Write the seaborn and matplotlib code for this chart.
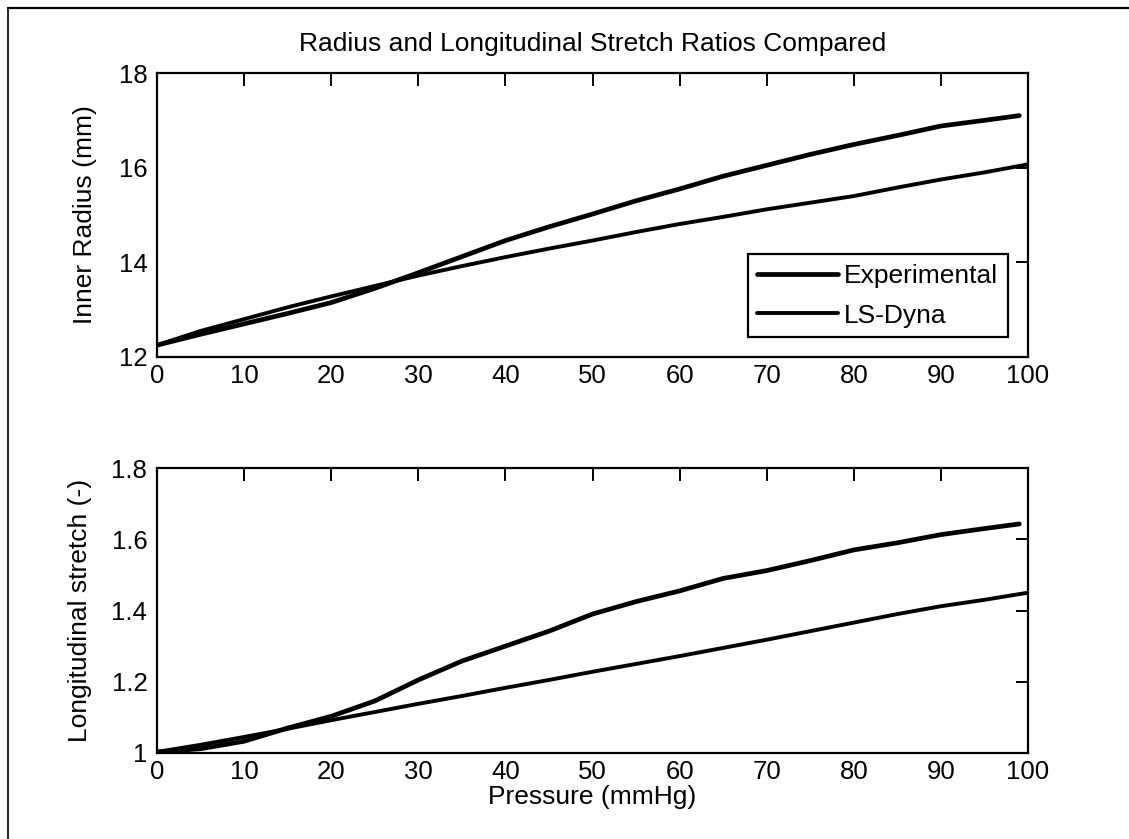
import matplotlib
matplotlib.use("Agg")
import matplotlib.pyplot as plt
from matplotlib import font_manager
from matplotlib.lines import Line2D
import seaborn as sns
import pandas as pd

# ---------------- data ----------------
pressure_exp = [0, 5, 10, 15, 20, 25, 30, 35, 40, 45, 50, 55, 60, 65, 70, 75, 80, 85, 90, 95, 99]
pressure_dyna = [0, 5, 10, 15, 20, 25, 30, 35, 40, 45, 50, 55, 60, 65, 70, 75, 80, 85, 90, 95, 100]

radius_exp = [12.25, 12.48, 12.70, 12.92, 13.15, 13.45, 13.78, 14.12, 14.46, 14.75, 15.02,
              15.30, 15.55, 15.82, 16.05, 16.28, 16.49, 16.68, 16.88, 17.00, 17.10]
radius_dyna = [12.25, 12.55, 12.80, 13.05, 13.28, 13.50, 13.72, 13.92, 14.11, 14.29, 14.46,
               14.64, 14.81, 14.96, 15.12, 15.26, 15.40, 15.58, 15.75, 15.90, 16.07]

stretch_exp = [1.003, 1.012, 1.033, 1.070, 1.103, 1.146, 1.205, 1.258, 1.300, 1.342, 1.390,
               1.425, 1.455, 1.490, 1.512, 1.540, 1.570, 1.590, 1.613, 1.630, 1.643]
stretch_dyna = [1.003, 1.023, 1.045, 1.068, 1.092, 1.115, 1.138, 1.160, 1.183, 1.205, 1.228,
                1.250, 1.272, 1.295, 1.318, 1.342, 1.366, 1.390, 1.412, 1.430, 1.450]

series_names = ["Experimental", "LS-Dyna"]
x_ticks = [0, 10, 20, 30, 40, 50, 60, 70, 80, 90, 100]
radius_ticks = [12, 14, 16, 18]
stretch_ticks = [1.0, 1.2, 1.4, 1.6, 1.8]
stretch_tick_labels = ["1", "1.2", "1.4", "1.6", "1.8"]

title_text = "Radius and Longitudinal Stretch Ratios Compared"
ylabel_top = "Inner Radius (mm)"
ylabel_bottom = "Longitudinal stretch (-)"
xlabel_bottom = "Pressure (mmHg)"

# ---------------- style ----------------
sns.set_style("white")
avail = {f.name for f in font_manager.fontManager.ttflist}
fam = [f for f in ["Liberation Sans Narrow", "Liberation Sans", "DejaVu Sans"] if f in avail]
plt.rcParams["font.family"] = fam
plt.rcParams["text.color"] = "black"
plt.rcParams["axes.labelcolor"] = "black"
plt.rcParams["xtick.color"] = "black"
plt.rcParams["ytick.color"] = "black"
FS = 19
TFS = 18.5

W, H = 1129, 839
fig = plt.figure(figsize=(W / 100, H / 100), dpi=100)
fig.patch.set_facecolor("white")

def rect(l, t, r, b):
    return [l / W, 1 - b / H, (r - l) / W, (b - t) / H]

ax1 = fig.add_axes(rect(157, 73, 1028, 357))
ax2 = fig.add_axes(rect(157, 468, 1028, 753))

df_top = pd.concat([
    pd.DataFrame({"p": pressure_exp, "v": radius_exp, "s": series_names[0]}),
    pd.DataFrame({"p": pressure_dyna, "v": radius_dyna, "s": series_names[1]}),
])
df_bot = pd.concat([
    pd.DataFrame({"p": pressure_exp, "v": stretch_exp, "s": series_names[0]}),
    pd.DataFrame({"p": pressure_dyna, "v": stretch_dyna, "s": series_names[1]}),
])

lws = {series_names[0]: 3.4, series_names[1]: 2.8}
for ax, df in ((ax1, df_top), (ax2, df_bot)):
    for name in series_names:
        sub = df[df["s"] == name]
        sns.lineplot(data=sub, x="p", y="v", ax=ax, color="black", lw=lws[name],
                     label=name, estimator=None, sort=False)

for ax in (ax1, ax2):
    ax.set_xlim(0, 100)
    ax.set_xticks(x_ticks)
    ax.set_xticklabels([str(t) for t in x_ticks])
    ax.tick_params(direction="in", length=9, width=1.4, top=True, right=True,
                   labelsize=TFS, colors="black")
    ax.tick_params(axis="x", pad=5)
    ax.tick_params(axis="y", pad=7)
    for s in ax.spines.values():
        s.set_visible(True)
        s.set_color("black")
        s.set_linewidth(1.6)
    ax.set_xlabel("")
    ax.set_facecolor("white")

ax1.set_ylim(12, 18)
ax1.set_yticks(radius_ticks)
ax1.set_yticklabels([str(t) for t in radius_ticks])
ax1.set_ylabel(ylabel_top, fontsize=FS)
ax1.yaxis.set_label_coords(-0.069, 0.5)
ax1.set_title(title_text, fontsize=FS, pad=15.5)

ax2.set_ylim(1.0, 1.8)
ax2.set_yticks(stretch_ticks)
ax2.set_yticklabels(stretch_tick_labels)
ax2.set_ylabel(ylabel_bottom, fontsize=FS)
ax2.yaxis.set_label_coords(-0.0746, 0.5)
ax2.set_xlabel(xlabel_bottom, fontsize=FS, labelpad=1)

leg = ax1.legend(loc="lower right", bbox_to_anchor=(0.977, 0.070), fontsize=FS,
                 frameon=True, fancybox=False, handlelength=3.05, handletextpad=0.25,
                 borderpad=0.36, labelspacing=0.6, borderaxespad=0)
leg.get_frame().set_edgecolor("black")
leg.get_frame().set_linewidth(1.6)
leg.get_frame().set_alpha(1.0)
if ax2.get_legend():
    ax2.get_legend().remove()

# scanned figure frame (top and left edges)
fig.add_artist(Line2D([8 / W, 1.0], [1 - 8 / H, 1 - 8 / H], color="black", lw=1.6,
                      transform=fig.transFigure))
fig.add_artist(Line2D([8 / W, 8 / W], [1 - 8 / H, 0.0], color="black", lw=1.2,
                      transform=fig.transFigure))

fig.savefig("out.png", dpi=100, facecolor="white")
